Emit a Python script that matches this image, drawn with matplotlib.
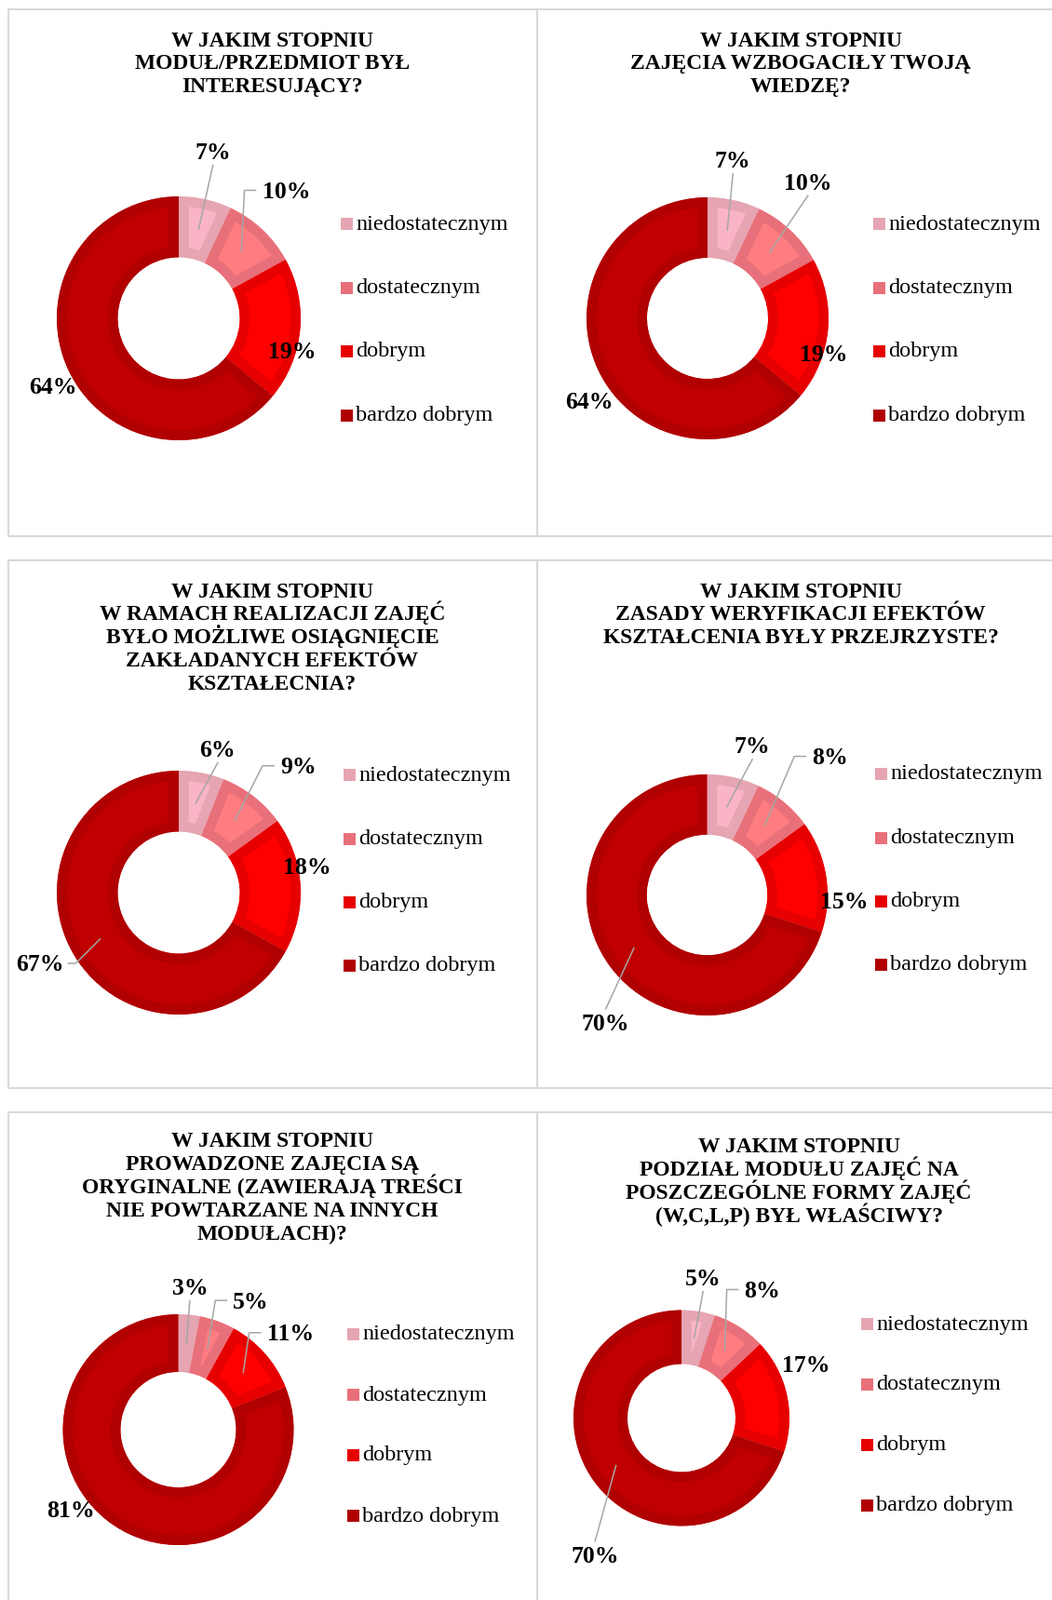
import matplotlib

matplotlib.use("Agg")
import matplotlib.pyplot as plt
import numpy as np
from matplotlib.patches import Rectangle

plt.rcParams["font.family"] = ["Liberation Serif", "DejaVu Serif"]

# --- data -------------------------------------------------------------
CATEGORIES = ["niedostatecznym", "dostatecznym", "dobrym", "bardzo dobrym"]

TITLES = [
    "W JAKIM STOPNIU\nMODUŁ/PRZEDMIOT BYŁ\nINTERESUJĄCY?",
    "W JAKIM STOPNIU\nZAJĘCIA WZBOGACIŁY TWOJĄ\nWIEDZĘ?",
    "W JAKIM STOPNIU\nW RAMACH REALIZACJI ZAJĘĆ\nBYŁO MOŻLIWE OSIĄGNIĘCIE\n"
    "ZAKŁADANYCH EFEKTÓW\nKSZTAŁECNIA?",
    "W JAKIM STOPNIU\nZASADY WERYFIKACJI EFEKTÓW\nKSZTAŁCENIA BYŁY PRZEJRZYSTE?",
    "W JAKIM STOPNIU\nPROWADZONE ZAJĘCIA SĄ\nORYGINALNE (ZAWIERAJĄ TREŚCI\n"
    "NIE POWTARZANE NA INNYCH\nMODUŁACH)?",
    "W JAKIM STOPNIU\nPODZIAŁ MODUŁU ZAJĘĆ NA\nPOSZCZEGÓLNE FORMY ZAJĘĆ\n"
    "(W,C,L,P) BYŁ WŁAŚCIWY?",
]

SHARES = [
    [7, 10, 19, 64],
    [7, 10, 19, 64],
    [6, 9, 18, 67],
    [7, 8, 15, 70],
    [3, 5, 11, 81],
    [5, 8, 17, 70],
]

# --- style ------------------------------------------------------------
FILL = ["#F9B5C6", "#FF7D80", "#FF0000", "#C00000"]
EDGE = ["#E5A5B2", "#E8707A", "#E60000", "#B00000"]
GRID = "#D9D9D9"
LEADER = "#A6A6A6"

W, H = 1130, 1719

# panel box, donut centre, radius, legend (x, first row y, step), title centre
PANELS = [
    dict(box=(9, 10, 576.5, 576), c=(192, 342), r=131, leg=(366, 241, 68.4), title=(292.5, 42)),
    dict(box=(576.5, 10, 1145, 576), c=(760, 342), r=130, leg=(938, 241, 68.4), title=(860, 42)),
    dict(box=(9, 602, 576.5, 1169), c=(192, 959), r=131, leg=(369, 833, 68.3), title=(292.5, 634)),
    dict(box=(576.5, 602, 1145, 1169), c=(759.5, 961.5), r=129.5, leg=(940, 832, 68.3), title=(860, 634)),
    dict(box=(9, 1195, 576.5, 1745), c=(191.5, 1536), r=124, leg=(373, 1434, 65.0), title=(292.5, 1225)),
    dict(box=(576.5, 1195, 1145, 1745), c=(732, 1523.5), r=116, leg=(925, 1423, 64.7), title=(858, 1231)),
]

# label offsets in radius units (y up) and leader style
LABEL_POS = [
    [(0.28, 1.37, "line"), (0.88, 1.05, "elbow"), (0.93, -0.26, None), (-1.03, -0.55, None)],
    [(0.21, 1.31, "line"), (0.83, 1.13, "line"), (0.96, -0.29, None), (-0.98, -0.68, None)],
    [(0.32, 1.18, "line"), (0.98, 1.04, "elbow"), (1.05, 0.22, None), (-1.14, -0.58, "elbow")],
    [(0.375, 1.24, "line"), (1.02, 1.15, "elbow"), (1.14, -0.05, None), (-0.84, -1.06, "line")],
    [(0.10, 1.24, "line"), (0.63, 1.12, "elbow"), (0.97, 0.84, "elbow"), (-0.93, -0.69, None)],
    [(0.20, 1.30, "line"), (0.75, 1.19, "elbow"), (1.15, 0.50, None), (-0.80, -1.27, "line")],
]

fig = plt.figure(figsize=(W / 100, H / 100), dpi=100)
ax = fig.add_axes([0, 0, 1, 1])

wedge_sets = []
for panel, vals in zip(PANELS, SHARES):
    cx, cy = panel["c"]
    r = panel["r"]
    wedges, _ = ax.pie(
        vals,
        colors=FILL,
        radius=r,
        center=(cx, cy),
        startangle=-90,
        counterclock=True,
        wedgeprops=dict(width=r * 0.5, linewidth=15.5, joinstyle="miter"),
    )
    # border drawn inside each wedge only: stroke twice as wide, clipped to itself
    for w, ec in zip(wedges, EDGE):
        w.set_edgecolor(ec)
        w.set_clip_on(True)
        w.set_clip_path(w)
    wedge_sets.append(wedges)

ax.set_xlim(0, W)
ax.set_ylim(H, 0)
ax.set_aspect("auto")
ax.axis("off")

renderer = fig.canvas.get_renderer()
inv = ax.transData.inverted()

for i, panel in enumerate(PANELS):
    x0, y0, x1, y1 = panel["box"]
    ax.add_patch(Rectangle((x0, y0), x1 - x0, y1 - y0, fill=False,
                           ec=GRID, lw=1.5, clip_on=False))

    tx, ty = panel["title"]
    for k, line in enumerate(TITLES[i].split("\n")):
        ax.text(tx, ty + k * 24.9 + 7.5, line, ha="center", va="baseline",
                fontsize=16.9, fontweight="bold")

    lx, ly0, step = panel["leg"]
    for k, cat in enumerate(CATEGORIES):
        yy = ly0 + k * step
        ax.add_patch(Rectangle((lx, yy - 6.5), 13, 13, fc=EDGE[k], ec="none"))
        ax.text(lx + 16, yy, cat, ha="left", va="center", fontsize=17.5)

    cx, cy = panel["c"]
    r = panel["r"]
    for w, v, (ox, oy, kind) in zip(wedge_sets[i], SHARES[i], LABEL_POS[i]):
        px, py = cx + ox * r, cy - oy * r
        t = ax.text(px, py + 8.5, f"{v}%", ha="center", va="baseline",
                    fontsize=18.5, fontweight="bold")
        if kind is None:
            continue
        mid = np.deg2rad((w.theta1 + w.theta2) / 2)
        ex, ey = cx + 0.75 * r * np.cos(mid), cy + 0.75 * r * np.sin(mid)
        if kind == "line":
            sy = py + 15 * np.sign(ey - py)
            ax.plot([px, ex], [sy, ey], color=LEADER, lw=1.1)
        else:
            bb = t.get_window_extent(renderer).transformed(inv)
            if px > ex:
                sx = bb.xmin - 7
                kx = sx - 12
            else:
                sx = bb.xmax + 5
                kx = sx + 8
            ax.plot([sx, kx, ex], [py, py, ey], color=LEADER, lw=1.1)

fig.savefig("out.png", dpi=100)
